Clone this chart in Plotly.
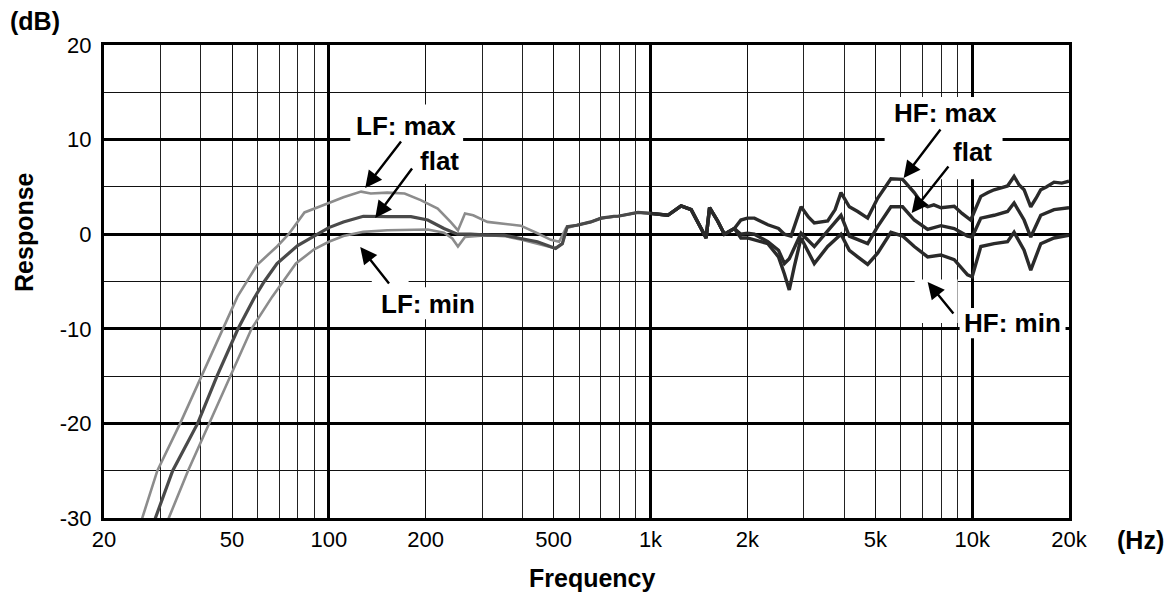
import plotly.graph_objects as go
import math

# ---------------- data ----------------
tick_freqs = [20, 50, 100, 200, 500, 1000, 2000, 5000, 10000, 20000]
tick_text = ["20", "50", "100", "200", "500", "1k", "2k", "5k", "10k", "20k"]
minor_freqs = [30, 40, 60, 70, 80, 90, 300, 400, 600, 700, 800, 900,
               3000, 4000, 6000, 7000, 8000, 9000]
decade_freqs = [100, 1000, 10000]
db_ticks = [-30, -20, -10, 0, 10, 20]
db_tick_text = ["-30", "-20", "-10", "0", "10", "20"]

freq_max = [25.5, 26.3, 29.3, 34.5, 40.2, 46.7, 52, 60, 69, 75, 84, 100, 111, 126, 135,
            152, 172, 193, 218, 239, 252, 265, 281, 311, 351, 395, 445, 490, 520, 545,
            592, 652, 703, 770, 792, 914, 1000, 1132, 1245, 1338, 1437, 1489, 1526,
            1617, 1697, 1823, 1910, 2000, 2104, 2316, 2500, 2608, 2735, 2938, 3100,
            3230, 3555, 3750, 3910, 4150, 4406, 4733, 5082, 5590, 6078, 6607, 7000,
            7270, 7600, 8000, 8795, 9300, 9900, 10640, 11200, 11700, 12300, 12880,
            13500, 14000, 14500, 15210, 15800, 16340, 17000, 17970, 19000, 20000]
db_max = [-32, -30, -25, -20, -15, -10, -6.6, -3.2, -1.3, 0, 2.3, 3.3, 3.9, 4.5, 4.3,
          4.4, 4.3, 3.6, 2.7, 1.3, 0.4, 2.2, 2.0, 1.3, 1.1, 0.9, 0.1, -0.6, -0.8, 0.6,
          1.0, 1.3, 1.7, 1.9, 1.9, 2.3, 2.2, 2.0, 3.0, 2.6, 0.6, -0.4, 2.8,
          1.4, 0.0, 0.6, 1.5, 1.7, 1.7, 1.0, 0.6, 0.0, -0.2, 2.9, 1.8,
          1.2, 1.4, 2.6, 4.4, 2.9, 2.4, 1.7, 3.8, 5.85, 5.8, 4.4, 3.2,
          2.9, 3.1, 2.8, 2.95, 2.2, 1.5, 4.0, 4.4, 4.7, 4.9, 5.1,
          6.1, 5.2, 4.7, 2.9, 3.8, 4.7, 5.0, 5.5, 5.4, 5.6]

freq_flat = [27.5, 28.9, 32.7, 39.1, 44.9, 52.2, 58.5, 63, 69, 80, 92, 100, 111, 128,
             152, 180, 203, 228, 251, 276, 311, 351, 395, 445, 507, 532, 551, 592, 652,
             703, 770, 792, 914, 1000, 1132, 1245, 1338, 1437, 1489, 1526, 1617, 1697,
             1823, 1910, 2000, 2104, 2316, 2500, 2608, 2700, 2800, 2938, 3230, 3555,
             3910, 4150, 4406, 4733, 5082, 5590, 6078, 6607, 7270, 7995, 8795, 9675,
             10000, 10640, 11700, 12880, 13500, 14500, 15210, 16340, 17970, 20000]
db_flat = [-32, -30, -25, -20, -15, -10, -6.8, -5.0, -3.1, -1.2, 0, 0.7, 1.3, 1.9,
           1.85, 1.85, 1.5, 0.6, 0, 0, -0.1, -0.1, -0.45, -0.8, -1.5, -1.0, 0.8, 0.95, 1.3,
           1.7, 1.9, 1.9, 2.3, 2.2, 2.0, 3.0, 2.6, 0.6, -0.4, 2.8, 1.4, 0.0,
           0.6, 0.0, 0.1, 0.0, -0.8, -1.7, -3.1, -2.6, -1.5, 0.1, -1.3, 0.4,
           2.0, -0.2, -0.6, -1.0, 0.8, 2.9, 2.9, 1.5, 0.5, 0.9, 0.6, -0.2,
           -0.3, 1.7, 2.0, 2.4, 3.3, 1.5, -0.3, 2.0, 2.6, 2.8]

freq_min = [30.5, 31.8, 36.5, 42.4, 49.4, 57.5, 66.7, 79, 90, 100, 111, 128, 152, 180,
            203, 228, 242, 252, 265, 311, 351, 395, 445, 507, 532, 551, 592, 652, 703,
            770, 792, 914, 1000, 1132, 1245, 1338, 1437, 1489, 1526, 1617, 1697, 1823,
            1910, 2000, 2316, 2500, 2608, 2700, 2800, 2938, 3230, 3555, 3910, 4150,
            4406, 4733, 5082, 5590, 6078, 6607, 7270, 7995, 8795, 9675, 10000, 10640,
            11700, 12880, 13500, 14500, 15210, 16340, 17970, 20000]
db_min = [-32, -30, -25, -20, -15, -10, -6.6, -3.1, -1.6, -0.8, -0.2, 0.25, 0.42, 0.5,
          0.5, 0.15, -0.45, -1.3, -0.3, -0.1, -0.2, -0.55, -1.0, -1.5, -1.0, 0.8, 0.95, 1.3, 1.7,
          1.9, 1.9, 2.3, 2.2, 2.0, 3.0, 2.6, 0.6, -0.4, 2.8, 1.4, 0.0, 0.6,
          -0.4, -0.4, -1.0, -2.4, -4.2, -5.9, -3.4, -0.4, -3.1, -1.3, 0.0, -1.7,
          -2.4, -3.2, -2.0, 0.2, -0.2, -1.3, -2.4, -2.2, -2.7, -4.3, -4.5, -1.3,
          -1.0, -0.8, 0.2, -1.7, -3.8, -1.0, -0.4, -0.1]

# label texts / arrows (data coordinates: log10 Hz, dB)
labels = ["LF: max", "flat", "LF: min", "HF: max", "flat", "HF: min"]
label_x = [2.2405, 2.3429, 2.3088, 3.9175, 4.0013, 4.1255]
label_y = [11.44, 7.74, -7.38, 12.81, 8.69, -9.39]
arrow_tail_x = [2.228, 2.2622, 2.1908, 3.905, 3.9299, 3.9454]
arrow_tail_y = [9.96, 7.10, -5.37, 11.23, 7.31, -8.54]
arrow_head_x = [2.1131, 2.1442, 2.0976, 3.787, 3.8119, 3.8616]
arrow_head_y = [4.88, 1.71, -1.35, 5.94, 2.24, -5.05]

# white label backgrounds (Hz, dB): x0, x1, y0, y1
mask_boxes = [
    (116.6, 261.5, 5.3, 13.7),
    (136.0, 177.0, -6.0, -4.6),
    (136.0, 295.0, -9.0, -5.6),
    (5344, 12430, 5.8, 14.5),
    (6624, 9010, -9.4, -4.8),
    (9140, 19510, -11.0, -7.8),
]

FONT = "Liberation Sans, Arial, Helvetica, sans-serif"

fig = go.Figure()


def split_at(freqs, vals, fsplit):
    i = next(k for k, f in enumerate(freqs) if f >= fsplit)
    return (freqs[:i + 1], vals[:i + 1]), (freqs[i:], vals[i:])


curves = [(freq_max, db_max, "#8c8c8c", 2.6),
          (freq_min, db_min, "#8c8c8c", 2.6),
          (freq_flat, db_flat, "#4a4a4a", 3.2)]
for fr, db, lf_color, lf_w in curves:
    (lf_f, lf_d), (hf_f, hf_d) = split_at(fr, db, 1000)
    fig.add_trace(go.Scatter(x=lf_f, y=lf_d, mode="lines", xaxis="x", yaxis="y",
                             line=dict(color=lf_color, width=lf_w),
                             hoverinfo="skip", showlegend=False))
    fig.add_trace(go.Scatter(x=hf_f, y=hf_d, mode="lines", xaxis="x", yaxis="y",
                             line=dict(color="#2a2a2a", width=3.4),
                             hoverinfo="skip", showlegend=False))

# invisible trace on the overlay axis carrying the decade grid
fig.add_trace(go.Scatter(x=decade_freqs, y=[0, 0, 0], mode="lines", xaxis="x2", yaxis="y",
                         line=dict(color="rgba(0,0,0,0)", width=0),
                         hoverinfo="skip", showlegend=False))

shapes = []
for x0, x1, y0, y1 in mask_boxes:
    shapes.append(dict(type="rect", xref="x", yref="y", x0=x0, x1=x1, y0=y0, y1=y1,
                       fillcolor="white", line=dict(width=0), layer="between"))

annotations = []
for t, x, y in zip(labels, label_x, label_y):
    annotations.append(dict(x=x, y=y, xref="x", yref="y", text="<b>" + t + "</b>",
                            showarrow=False, font=dict(family=FONT, size=26, color="black"),
                            xanchor="center", yanchor="middle"))
for tx, ty, hx, hy in zip(arrow_tail_x, arrow_tail_y, arrow_head_x, arrow_head_y):
    annotations.append(dict(x=hx, y=hy, xref="x", yref="y", ax=tx, ay=ty,
                            axref="x", ayref="y", text="", showarrow=True,
                            arrowhead=2, arrowsize=1.4, arrowwidth=2.4,
                            arrowcolor="black", standoff=0, startstandoff=0))

annotations += [
    dict(x=-0.0715, y=1.0507, xref="paper", yref="paper", text="<b>(dB)</b>",
         xanchor="center", yanchor="middle",
         showarrow=False, font=dict(family=FONT, size=25, color="black")),
    dict(x=-0.0829, y=0.6047, xref="paper", yref="paper", text="<b>Response</b>",
         xanchor="center", yanchor="middle",
         showarrow=False, textangle=-90, font=dict(family=FONT, size=25, color="black")),
    dict(x=0.5067, y=-0.1268, xref="paper", yref="paper", text="<b>Frequency</b>",
         xanchor="center", yanchor="middle",
         showarrow=False, font=dict(family=FONT, size=25, color="black")),
    dict(x=1.0746, y=-0.0465, xref="paper", yref="paper", text="<b>(Hz)</b>",
         xanchor="center", yanchor="middle",
         showarrow=False, font=dict(family=FONT, size=25, color="black")),
]

xrange = [math.log10(20), math.log10(20000)]

fig.update_layout(
    width=1174, height=598,
    margin=dict(l=104, r=105, t=45, b=80),
    paper_bgcolor="white", plot_bgcolor="white",
    font=dict(family=FONT, color="black"),
    showlegend=False,
    xaxis=dict(type="log", range=xrange, tickmode="array", tickvals=tick_freqs,
               ticktext=tick_text, showgrid=True, gridcolor="#111", gridwidth=1.3,
               minor=dict(tickmode="array", tickvals=minor_freqs, showgrid=True,
                          gridcolor="#222", gridwidth=1.3, ticks=""),
               ticks="", tickfont=dict(family=FONT, size=22, color="black"),
               showline=True, linecolor="black", linewidth=3, mirror=True,
               zeroline=False, ticklabelstandoff=0),
    xaxis2=dict(type="log", range=xrange, overlaying="x", tickmode="array",
                tickvals=decade_freqs, showticklabels=False, showgrid=True,
                gridcolor="black", gridwidth=3, ticks="", showline=False, zeroline=False),
    yaxis=dict(range=[-30, 20], tickmode="array", tickvals=db_ticks,
               ticktext=db_tick_text,
               showgrid=True, gridcolor="black", gridwidth=2.6,
               minor=dict(dtick=5, tick0=0, showgrid=True, gridcolor="#111",
                          gridwidth=1.3, ticks=""),
               ticks="", tickfont=dict(family=FONT, size=22, color="black"),
               showline=True, linecolor="black", linewidth=3, mirror=True,
               zeroline=False, ticklabelstandoff=5),
    shapes=shapes,
    annotations=annotations,
)

fig.write_html("out.html", config={"displayModeBar": False},
               post_script="document.body.style.margin='0px';")
